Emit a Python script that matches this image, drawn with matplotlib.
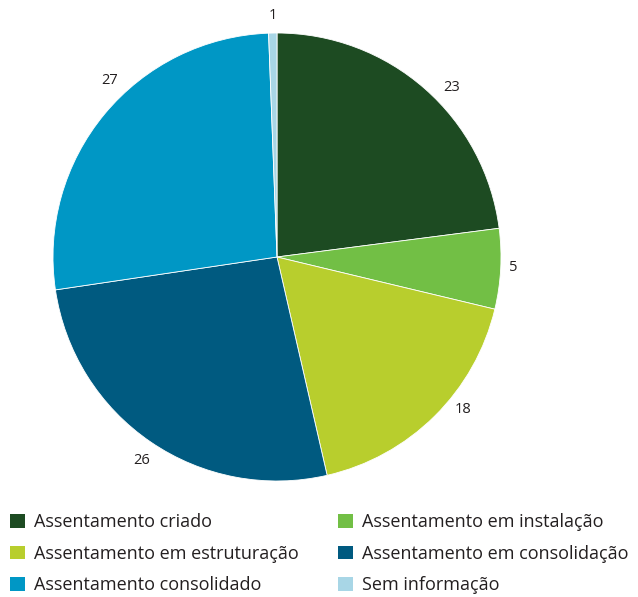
import numpy as np
import matplotlib.pyplot as plt
from matplotlib.patches import Patch

plt.rcParams['font.family'] = ['Open Sans', 'DejaVu Sans']

categories = ['Assentamento criado', 'Assentamento em instalação',
              'Assentamento em estruturação', 'Assentamento em consolidação',
              'Assentamento consolidado', 'Sem informação']
# printed labels (rounded) and slice sizes
labels = ['23', '5', '18', '26', '27', '1']
sizes = [23, 5.8, 17.7, 26.3, 26.8, 0.6]
colors = ['#1d4b22', '#72bf45', '#b8ce2d', '#005a80', '#0097c5', '#a8d6e6']

# label placement tweaks (clockwise degrees from slice middle, radius)
lab_shift = [4.6, -0.6, -6.0, -0.7, 6.9, 0.2]
lab_dist = [1.085, 1.055, 1.075, 1.09, 1.085, 1.08]

fig = plt.figure(figsize=(6.38, 5.97), dpi=100)
ax = fig.add_axes([53/638, 1 - 481/597, 448/638, 448/597])
wedges, _ = ax.pie(sizes, colors=colors, startangle=90, counterclock=False,
                   wedgeprops=dict(edgecolor='white', linewidth=0.6))
for w, lab, sh, d in zip(wedges, labels, lab_shift, lab_dist):
    a = np.deg2rad((w.theta1 + w.theta2) / 2 - sh)
    ax.text(d * np.cos(a), d * np.sin(a), lab, ha='center', va='center',
            fontsize=10.5, color='#231f20')
ax.set_xlim(-1, 1)
ax.set_ylim(-1, 1)
ax.set_aspect('equal')
ax.axis('off')

order = [0, 2, 4, 1, 3, 5]
handles = [Patch(facecolor=colors[i], label=categories[i]) for i in order]
fig.legend(handles=handles, ncol=2, loc='upper left',
           bbox_to_anchor=(5/638, 1 - 508/597), frameon=False,
           fontsize=13, handlelength=0.8, handleheight=0.8,
           handletextpad=0.5, columnspacing=2.2, labelspacing=0.74,
           borderaxespad=0.0, borderpad=0.3, labelcolor='#231f20')

fig.savefig('out.png', dpi=100)
